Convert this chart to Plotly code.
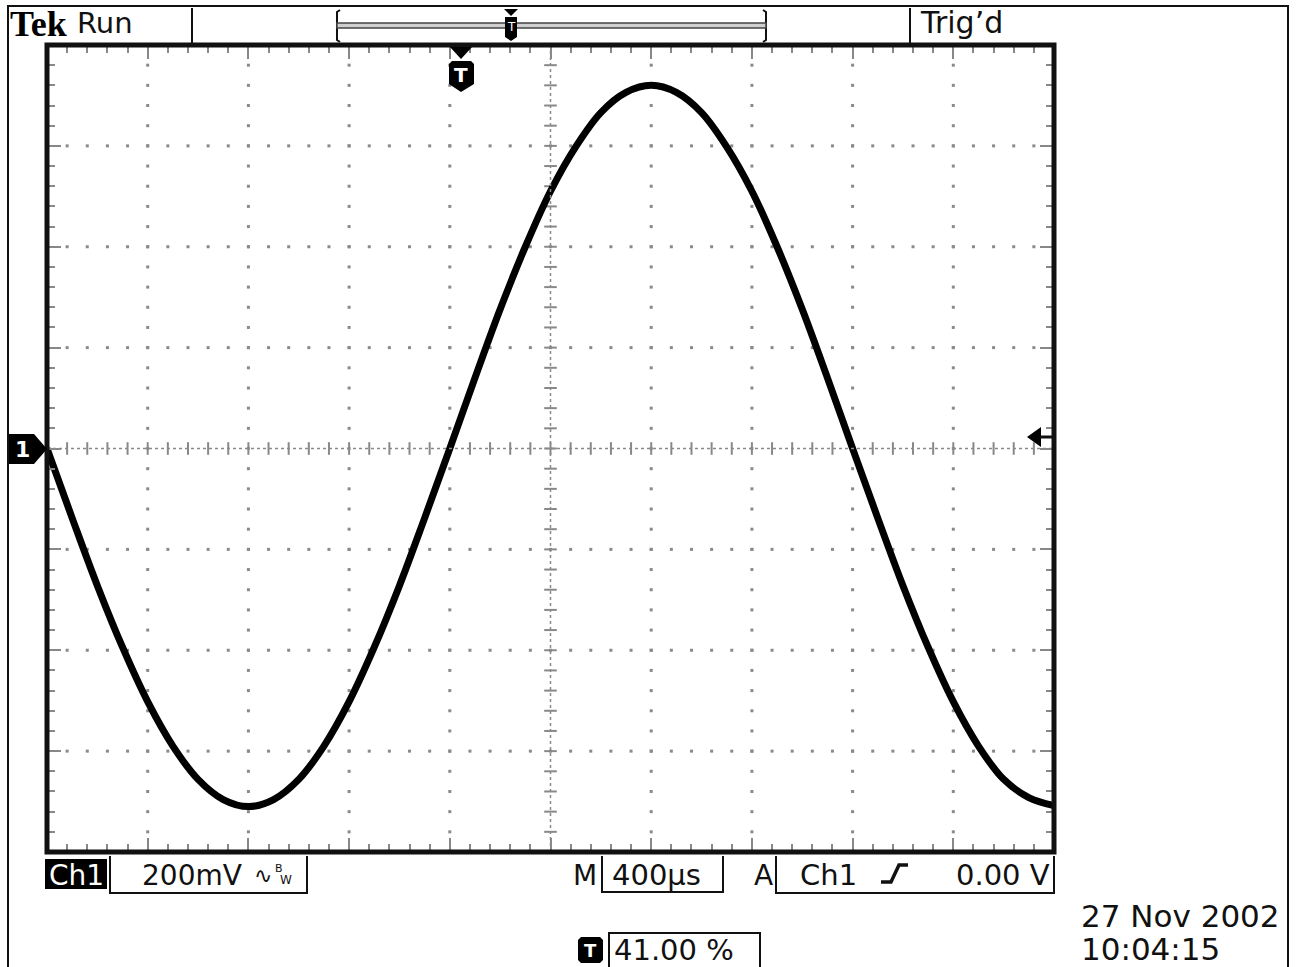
import plotly.graph_objects as go

time_us = [-1640, -1540, -1440, -1340, -1240, -1140, -1040, -940, -840, -740,
           -640, -540, -440, -340, -240, -140, -40, 60, 160, 260,
           360, 460, 560, 660, 760, 860, 960, 1060, 1160, 1260,
           1360, 1460, 1560, 1660, 1760, 1860, 1960, 2060, 2160, 2260, 2360]
ch1_mv = [0, -138, -272, -394, -502, -590, -656, -696, -710, -696,
          -656, -590, -502, -394, -272, -138, 0, 140, 276, 400,
          510, 598, 666, 706, 720, 706, 666, 598, 510, 400,
          276, 140, 0, -138, -272, -394, -502, -590, -656, -692, -708]

X_MIN, X_MAX = -1640, 2360     # 400 us/div, trigger at 41 %
Y_MIN, Y_MAX = -800, 800       # 200 mV/div
X_DIV, Y_DIV = 400, 200
X_MINOR, Y_MINOR = 80, 40

header_left = ["Tek", "Run"]
status_text = "Trig’d"
ch_label = "Ch1"
volts_div = "200mV"
time_div = "400µs"
trig_src = "Ch1"
trig_level = "0.00 V"
trig_pos = "41.00 %"
date_text = "27 Nov 2002"
time_text = "10:04:15"

# ---------------- page geometry ----------------
W, H = 1296, 967
L, R, T, B = 47, 1054, 45, 852


def X(px):
    return (px - L) / (R - L)


def Y(py):
    return (B - py) / (B - T)


INK = "#111111"
GRID = "#8a8a8a"
FONT = "DejaVu Sans"

fig = go.Figure()

# graticule dots
gx, gy = [], []
cx = (X_MIN + X_MAX) / 2
cy = (Y_MIN + Y_MAX) / 2
for k in range(1, 10):
    xv = X_MIN + k * X_DIV
    if xv == cx:
        continue
    for j in range(1, 40):
        gx.append(xv)
        gy.append(Y_MIN + j * Y_MINOR)
for k in range(1, 8):
    yv = Y_MIN + k * Y_DIV
    if yv == cy:
        continue
    for j in range(1, 50):
        gx.append(X_MIN + j * X_MINOR)
        gy.append(yv)
fig.add_trace(go.Scatter(x=gx, y=gy, mode="markers", hoverinfo="skip",
                         marker=dict(symbol="square", size=3, color=GRID, line=dict(width=0)),
                         showlegend=False))

# center-line tick marks
tx = [X_MIN + j * X_MINOR for j in range(1, 50)]
fig.add_trace(go.Scatter(x=tx, y=[cy] * len(tx), mode="markers", hoverinfo="skip",
                         marker=dict(symbol="line-ns", size=9, line=dict(width=2, color="#888")),
                         showlegend=False))
ty = [Y_MIN + j * Y_MINOR for j in range(1, 40)]
fig.add_trace(go.Scatter(x=[cx] * len(ty), y=ty, mode="markers", hoverinfo="skip",
                         marker=dict(symbol="line-ew", size=9, line=dict(width=2, color="#888")),
                         showlegend=False))

# waveform
fig.add_trace(go.Scatter(x=time_us, y=ch1_mv, mode="lines",
                         line=dict(color="#000000", width=7, shape="spline", smoothing=1.0),
                         showlegend=False, name="Ch1"))

shapes = []
ann = []


def rect(x0, y0, x1, y1, fill=None, lc=INK, lw=2, layer="above"):
    shapes.append(dict(type="rect", xref="paper", yref="paper",
                       x0=X(x0), x1=X(x1), y0=Y(y0), y1=Y(y1),
                       fillcolor=fill if fill else "rgba(0,0,0,0)",
                       line=dict(color=lc, width=lw), layer=layer))


def path(pts, fill=None, lc=INK, lw=0, close=True):
    d = "M " + " L ".join(f"{X(a):.5f},{Y(b):.5f}" for a, b in pts)
    if close:
        d += " Z"
    shapes.append(dict(type="path", xref="paper", yref="paper", path=d,
                       fillcolor=fill if fill else "rgba(0,0,0,0)",
                       line=dict(color=lc, width=lw), layer="above"))


def line(x0, y0, x1, y1, lw=2, lc=INK, dash="solid"):
    shapes.append(dict(type="line", xref="paper", yref="paper",
                       x0=X(x0), x1=X(x1), y0=Y(y0), y1=Y(y1),
                       line=dict(color=lc, width=lw, dash=dash), layer="above"))


def txt(s, x, y, size=29, color=INK, anchor="left", family=FONT, height=None):
    a = dict(text=s, x=X(x), y=Y(y), xref="paper", yref="paper",
             xanchor=anchor, yanchor="middle", showarrow=False,
             font=dict(size=size, color=color, family=family))
    if height:
        a["height"] = height
        a["valign"] = "middle"
    ann.append(a)


# center dotted lines
line(L, (T + B) / 2, R, (T + B) / 2, lw=1.5, lc="#8a8a8a", dash="dot")
line((L + R) / 2, T, (L + R) / 2, B, lw=1.5, lc="#8a8a8a", dash="dot")

# outer frame of the capture
rect(8, 6, 1288, 975, lw=2)
# screen frame
rect(L, T, R, B, lw=5)

# ---- header ----
txt("<b>" + header_left[0] + "</b>", 8, 24, size=36, family="Liberation Serif", color="#000")
txt(header_left[1], 75, 23, size=29)
line(192, 8, 192, 45, lw=2)
# record bar
path([(340, 10), (337, 12), (337, 40), (340, 42)], lw=2, close=False)
path([(763, 10), (766, 12), (766, 40), (763, 42)], lw=2, close=False)
rect(337, 23, 766, 28, fill="#cfcfcf", lc="#444", lw=1.5)
path([(504, 9), (518, 9), (511, 16)], fill="#000")
path([(505, 17), (517, 17), (517, 37), (511, 41), (505, 37)], fill="#000")
txt("T", 511, 27, size=12, color="#fff", anchor="center")
line(910, 8, 910, 45, lw=2)
txt(status_text, 918, 23, size=30)

# trigger position marker
path([(450, 47), (472, 47), (461, 59)], fill="#000")
path([(452, 61), (471, 61), (474, 64), (474, 84), (461, 92), (449, 84), (449, 64)], fill="#000")
txt("<b>T</b>", 461, 75, size=20, color="#fff", anchor="center")

# channel 1 ground marker
path([(9, 434), (34, 434), (47, 449), (34, 464), (9, 464)], fill="#000")
txt("<b>1</b>", 22, 449, size=22, color="#fff", anchor="center")

# trigger level arrow
path([(1027, 437), (1041, 427), (1041, 447)], fill="#000")
line(1040, 437, 1052, 437, lw=3)

# ---- bottom readout ----
rect(45, 859, 107, 889, fill="#000", lw=0)
txt(ch_label, 76, 875, size=28, color="#fff", anchor="center")
path([(110, 856), (110, 893), (307, 893), (307, 856)], lw=2, close=False)
txt(volts_div, 140, 875, size=28)
txt("∿", 263, 875, size=22, anchor="center")
txt("B", 279, 868, size=11, anchor="center")
txt("W", 286, 880, size=12, anchor="center")

txt("M", 585, 875, size=28, anchor="center")
path([(602, 856), (602, 892), (723, 892), (723, 856)], lw=2, close=False)
txt(time_div, 610, 875, size=29)
txt("A", 763, 875, size=28, anchor="center")
path([(776, 856), (776, 893), (1054, 893), (1054, 856)], lw=2, close=False)
txt(trig_src, 798, 875, size=29)
path([(881, 882), (891, 882), (899, 865), (908, 865)], lw=3.5, close=False)
txt(trig_level, 1052, 875, size=29, anchor="right")

# trigger position readout
path([(581, 937), (600, 937), (603, 940), (603, 960), (600, 963), (581, 963), (578, 960), (578, 940)], fill="#000")
txt("<b>T</b>", 590, 950, size=18, color="#fff", anchor="center")
rect(609, 933, 760, 975, lw=2)
txt(trig_pos, 612, 950, size=29)

# date / time
txt(date_text, 1079, 916, size=31, height=30)
txt(time_text, 1079, 949, size=31, height=30)

fig.update_layout(
    width=W, height=H,
    margin=dict(l=L, r=W - R, t=T, b=H - B, pad=0),
    paper_bgcolor="#ffffff", plot_bgcolor="#ffffff",
    shapes=shapes, annotations=ann, showlegend=False,
    xaxis=dict(range=[X_MIN, X_MAX], showgrid=False, zeroline=False, showline=False,
               showticklabels=False, ticks="inside", tick0=X_MIN, dtick=X_DIV,
               ticklen=14, tickwidth=2, tickcolor="#888", mirror="ticks",
               minor=dict(ticks="inside", tick0=X_MIN, dtick=X_MINOR, ticklen=8,
                          tickwidth=2, tickcolor="#888", showgrid=False),
               fixedrange=True),
    yaxis=dict(range=[Y_MIN, Y_MAX], showgrid=False, zeroline=False, showline=False,
               showticklabels=False, ticks="inside", tick0=Y_MIN, dtick=Y_DIV,
               ticklen=14, tickwidth=2, tickcolor="#888", mirror="ticks",
               minor=dict(ticks="inside", tick0=Y_MIN, dtick=Y_MINOR, ticklen=8,
                          tickwidth=2, tickcolor="#888", showgrid=False),
               fixedrange=True),
)

fig.write_html("out.html", config={"displayModeBar": False})
